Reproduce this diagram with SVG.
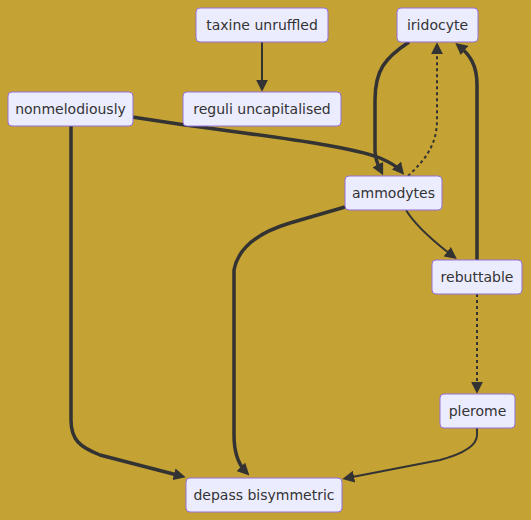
<svg xmlns="http://www.w3.org/2000/svg" width="531" height="520" viewBox="0 0 531 520">
<style>
.node rect{fill:#ECECFF;stroke:#9370DB;stroke-width:1px;}
.node text{font-family:"DejaVu Sans",Verdana,sans-serif;font-size:14px;fill:#333333;text-anchor:middle;}
.edge{fill:none;stroke:#333333;}
.thick{stroke-width:3.5px;}
.normal{stroke-width:2px;}
.dotted{stroke-width:2px;stroke-dasharray:3 3;}
</style>
<defs>
<marker id="arrow" viewBox="0 0 10 10" refX="6" refY="5" markerUnits="userSpaceOnUse" markerWidth="12" markerHeight="12" orient="auto">
<path d="M0,0 L10,5 L0,10 z" fill="#333333"/>
</marker>
</defs>
<rect x="0" y="0" width="531" height="520" fill="#C4A233"/>
<g id="connectors">
<path class="edge normal" d="M262,42 L262,87" marker-end="url(#arrow)"/>
<path class="edge thick" d="M132,117 L185,125 C280,138 350,146 380,158 Q396,165 401,171" marker-end="url(#arrow)"/>
<path class="edge thick" d="M71,126 L71,420 C71,440 80,447 100,455 L181,476" marker-end="url(#arrow)"/>
<path class="edge thick" d="M409,42 C385,58 375,70 375,100 L375,150 C375,160 378,165 381,171" marker-end="url(#arrow)"/>
<path class="edge dotted" d="M408,176 C425,160 437,145 437,120 L437,47" marker-end="url(#arrow)"/>
<path class="edge thick" d="M477,260 L477,85 C477,65 470,55 459,46" marker-end="url(#arrow)"/>
<path class="edge normal" d="M406,210 C415,225 430,238 445,250 L453,256" marker-end="url(#arrow)"/>
<path class="edge thick" d="M345,207 L290,223 Q240,238 234,270 L234,435 Q234,460 246,472" marker-end="url(#arrow)"/>
<path class="edge dotted" d="M477,294 L477,389" marker-end="url(#arrow)"/>
<path class="edge normal" d="M477,428 L477,435 Q477,450 440,460 L347,478" marker-end="url(#arrow)"/>
</g>
<g id="taxine" class="node"><rect x="196" y="8" width="132" height="34" rx="4"/><text x="262" y="30">taxine unruffled</text></g>
<g id="iridocyte" class="node"><rect x="397" y="8" width="81" height="34" rx="4"/><text x="437.5" y="30">iridocyte</text></g>
<g id="nonmelodiously" class="node"><rect x="8" y="92" width="125" height="34" rx="4"/><text x="70.5" y="114">nonmelodiously</text></g>
<g id="reguli" class="node"><rect x="183" y="92" width="158" height="34" rx="4"/><text x="262" y="114">reguli uncapitalised</text></g>
<g id="ammodytes" class="node"><rect x="345" y="176" width="97" height="34" rx="4"/><text x="393.5" y="198">ammodytes</text></g>
<g id="rebuttable" class="node"><rect x="432" y="260" width="90" height="34" rx="4"/><text x="477" y="282">rebuttable</text></g>
<g id="plerome" class="node"><rect x="440" y="394" width="75" height="34" rx="4"/><text x="477.5" y="416">plerome</text></g>
<g id="depass" class="node"><rect x="186" y="478" width="156" height="34" rx="4"/><text x="264" y="500">depass bisymmetric</text></g>
</svg>
